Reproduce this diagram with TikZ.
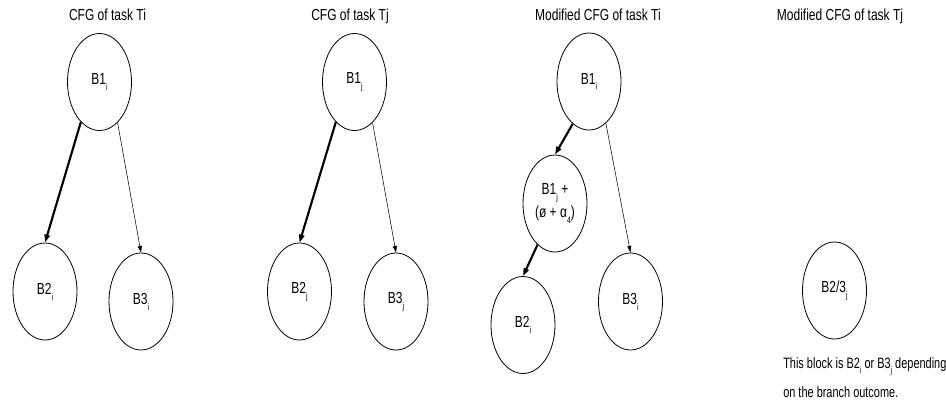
\documentclass[tikz,border=0pt]{standalone}
\usepackage{fontspec}
\usepackage{graphicx}
\setmainfont{Liberation Sans}
\usetikzlibrary{shapes.geometric,arrows.meta}

% narrow face and low index as in the drawing
\newcommand{\nw}[1]{\scalebox{0.75}[1]{#1}}
\newcommand{\lo}[1]{\raisebox{-0.7ex}{\fontsize{7}{8}\selectfont #1}}

\tikzset{
  every node/.style={font=\fontsize{12}{16}\selectfont},
  block/.style={draw, ellipse, line width=0.6pt, minimum width=48pt, minimum height=72.75pt, inner sep=0pt, align=center},
  cfgtitle/.style={anchor=base},
  note/.style={anchor=base west, inner sep=0pt, font=\fontsize{11.25}{14}\selectfont},
  taken/.style={line width=1.6pt, -{Triangle[length=6pt,width=4pt]}},
  fallthru/.style={line width=0.4pt, -{Triangle[length=5pt,width=3pt]}},
}

\begin{document}
\begin{tikzpicture}[x=0.75pt,y=-0.75pt]
    \useasboundingbox (0,0) rectangle (946,408);
    % CFG of task Ti
    \node[cfgtitle] (ti) at (107.5,20.5) {\nw{CFG of task Ti}};
    \node[block] (b1i) at (99.5,82) {\nw{B1\lo{i}}};
    \node[block] (b2i) at (45,291.5) {\nw{B2\lo{i}}};
    \node[block] (b3i) at (141,301.5) {\nw{B3\lo{i}}};
    \draw[taken] (b1i.245) -- (b2i.north);
    \draw[fallthru] (b1i.294) -- (b3i.north);
    % CFG of task Tj
    \node[cfgtitle] (tj) at (350,20.5) {\nw{CFG of task Tj}};
    \node[block] (b1j) at (354.5,82) {\nw{B1\lo{j}}};
    \node[block] (b2j) at (299.5,291.5) {\nw{B2\lo{j}}};
    \node[block] (b3j) at (396,301.5) {\nw{B3\lo{j}}};
    \draw[taken] (b1j.245) -- (b2j.north);
    \draw[fallthru] (b1j.294) -- (b3j.north);
    % Modified CFG of task Ti
    \node[cfgtitle] (mti) at (598,20.5) {\nw{Modified CFG of task Ti}};
    \node[block] (mb1i) at (589,81.5) {\nw{B1\lo{i}}};
    \node[block] (mb1j) at (555,203.5) {\nw{B1\lo{j} +}\\[1pt]\nw{(ø + α\lo{4})}};
    \node[block] (mb2i) at (523,325) {\nw{B2\lo{i}}};
    \node[block] (mb3i) at (630.5,301.5) {\nw{B3\lo{i}}};
    \draw[taken] (mb1i.249) -- (mb1j.north);
    \draw[taken] (mb1j.247) -- (mb2i.north);
    \draw[fallthru] (mb1i.292) -- (mb3i.north);
    % Modified CFG of task Tj
    \node[cfgtitle] (mtj) at (840,20.5) {\nw{Modified CFG of task Tj}};
    \node[block] (mb23j) at (834.5,290.5) {\nw{B2/3\lo{j}}};
    \node[note] (note1) at (783,368) {\scalebox{0.73}[1]{This block is B2\lo{i} or B3\lo{j} depending}};
    \node[note] (note2) at (783,397) {\scalebox{0.73}[1]{on the branch outcome.}};
\end{tikzpicture}
\end{document}
